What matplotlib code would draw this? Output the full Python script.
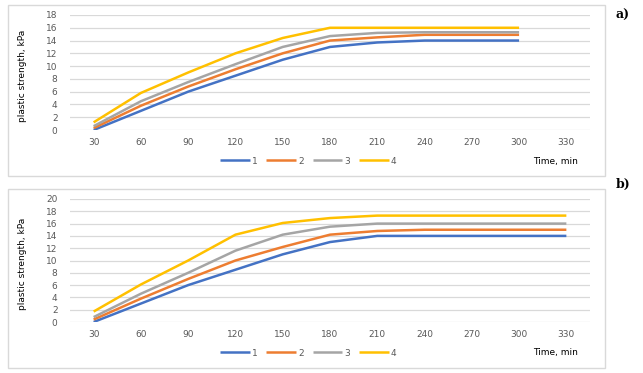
import matplotlib.pyplot as plt
from matplotlib.patches import Rectangle

# Datos de los dos graficos (a y b)
tiempos = ['30', '60', '90', '120', '150', '180', '210', '240', '270', '300', '330']
nombres = ['1', '2', '3', '4']
colores = ['#4472C4', '#ED7D31', '#A5A5A5', '#FFC000']

serie_a1 = [0, 3, 6, 8.5, 11, 13, 13.7, 14, 14, 14]
serie_a2 = [0.3, 3.8, 6.8, 9.5, 12, 14, 14.5, 14.9, 14.9, 14.9]
serie_a3 = [0.6, 4.5, 7.5, 10.3, 13, 14.7, 15.2, 15.3, 15.3, 15.3]
serie_a4 = [1.2, 5.8, 9, 12, 14.4, 16, 16, 16, 16, 16]

serie_b1 = [0, 3, 6, 8.5, 11, 13, 14, 14, 14, 14, 14]
serie_b2 = [0.4, 3.8, 7, 10, 12.2, 14.2, 14.8, 15, 15, 15, 15]
serie_b3 = [0.8, 4.6, 8, 11.6, 14.2, 15.5, 16, 16, 16, 16, 16]
serie_b4 = [1.7, 6.1, 10, 14.2, 16.1, 16.9, 17.3, 17.3, 17.3, 17.3, 17.3]

W, H = 643, 373
fig = plt.figure(figsize=(W / 100, H / 100), dpi=100)


def caja(x0, y0, x1, y1):
    # rectangulo gris alrededor de cada grafico (coordenadas en pixeles)
    fig.patches.append(Rectangle((x0 / W, 1 - y1 / H), (x1 - x0) / W, (y1 - y0) / H,
                                 transform=fig.transFigure, fill=False,
                                 edgecolor='#d9d9d9', linewidth=1))


def panel(rect, series, ymax, ley_y, etiqueta, etiq_xy):
    x0, ytop, x1, ybot = rect
    ax = fig.add_axes([x0 / W, 1 - ybot / H, (x1 - x0) / W, (ybot - ytop) / H])
    for s, c, n in zip(series, colores, nombres):
        ax.plot(range(len(s)), s, color=c, linewidth=1.8, label=n,
                solid_capstyle='butt')
    ax.set_xlim(-0.5, len(tiempos) - 0.5)
    ax.set_ylim(0, ymax)
    ax.set_xticks(range(len(tiempos)))
    ax.set_xticklabels(tiempos)
    ax.set_yticks(range(0, ymax + 1, 2))
    ax.grid(axis='y', color='#d9d9d9', linewidth=0.9)
    ax.set_axisbelow(True)
    for sp in ax.spines.values():
        sp.set_visible(False)
    ax.tick_params(length=0, labelsize=6.5, labelcolor='#595959')
    ax.tick_params(axis='y', pad=9)
    ax.tick_params(axis='x', pad=6)
    ax.set_ylabel('plastic strength, kPa', fontsize=6.5, labelpad=6)
    ax.yaxis.set_label_coords(-0.082, 0.47)
    ax.legend(loc='center', bbox_to_anchor=(308 / W, 1 - ley_y / H),
              bbox_transform=fig.transFigure, ncol=4, frameon=False,
              fontsize=6.5, labelcolor='#595959', handlelength=3.3,
              handletextpad=0.2, columnspacing=1.0)
    fig.text(533 / W, 1 - ley_y / H, 'Time, min', fontsize=6.5, va='center')
    fig.text(etiq_xy[0] / W, 1 - etiq_xy[1] / H, etiqueta, fontsize=9,
             fontweight='bold', family='DejaVu Serif', va='center')
    return ax


caja(8, 5, 605, 176)
caja(8, 189, 605, 368)

panel((70, 15, 590, 130), [serie_a1, serie_a2, serie_a3, serie_a4], 18, 161,
      'a)', (616, 15))
panel((70, 199, 590, 322), [serie_b1, serie_b2, serie_b3, serie_b4], 20, 353,
      'b)', (616, 184))

fig.savefig('out.png', dpi=100)
